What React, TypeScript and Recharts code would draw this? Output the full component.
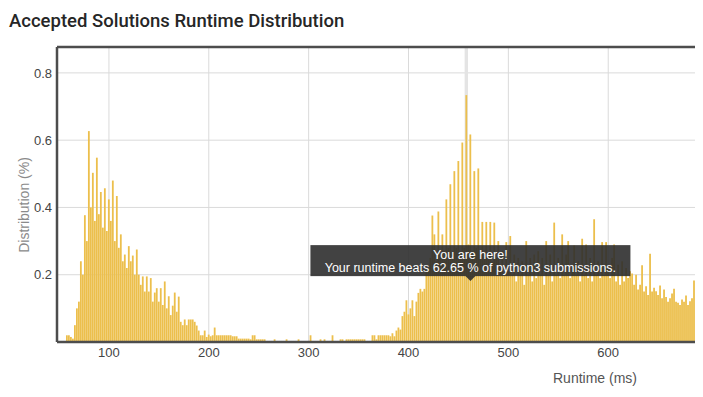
import React from 'react';
import { BarChart, Bar, XAxis, YAxis, CartesianGrid, ReferenceLine, ReferenceDot, Label } from 'recharts';

// runtime bins are 2 ms wide, values are share of accepted submissions (%)
const BIN_MS = 2;

const firstPeakStart = 50;
const firstPeak = [
  0, 0, 0, 0, 0.02, 0.02, 0.015, 0.01, 0.05, 0.1, 0.12, 0.24, 0.2, 0.377, 0.3, 0.627,
  0.4, 0.503, 0.36, 0.548, 0.38, 0.446, 0.34, 0.457, 0.33, 0.424, 0.36, 0.48, 0.3, 0.434,
  0.28, 0.32, 0.24, 0.26, 0.22, 0.285, 0.24, 0.257, 0.2, 0.275, 0.2, 0.17, 0.195, 0.15,
  0.195, 0.15, 0.19, 0.12, 0.147, 0.16, 0.12, 0.16, 0.11, 0.18, 0.1, 0.136, 0.08, 0.108,
  0.147, 0.09, 0.135, 0.06, 0.05, 0.067, 0.05, 0.067, 0.067, 0.067, 0.06, 0.049, 0.034,
  0.02, 0.02, 0.034, 0.015, 0.022, 0.017, 0.02, 0.043,
];

const gapStart = 208;
const gap = [
  0.02, 0.02, 0.02, 0.02, 0.02, 0.02, 0.02, 0.02, 0.017, 0.017, 0.017, 0.01, 0.01, 0.01,
  0.01, 0.01, 0.01, 0.008, 0.02, 0.02, 0.008, 0.008, 0.008, 0.008, 0.008, 0, 0, 0, 0,
  0.008, 0, 0, 0, 0, 0, 0.008, 0, 0, 0, 0, 0, 0.008, 0, 0, 0, 0, 0, 0.02, 0, 0, 0, 0,
  0.008, 0, 0.008, 0, 0, 0, 0.02, 0, 0, 0, 0.008, 0.008, 0, 0.008, 0.008, 0.008, 0.008,
  0.008, 0.008, 0.008, 0.008, 0.008, 0.008, 0, 0, 0, 0.02, 0.02, 0.008, 0.02, 0.02, 0.02,
  0.02, 0.02, 0.02, 0.017, 0.026, 0.017, 0.034, 0.043,
];

const secondPeakStart = 392;
const secondPeak = [
  0.037, 0.077, 0.09, 0.124, 0.082, 0.1, 0.124, 0.077, 0.12, 0.146, 0.158, 0.15, 0.158,
  0.21, 0.22, 0.25, 0.376, 0.32, 0.24, 0.388, 0.26, 0.32, 0.27, 0.424, 0.28, 0.469, 0.26,
  0.508, 0.28, 0.538, 0.27, 0.593, 0.28, 0.734, 0.29, 0.617, 0.27, 0.508, 0.28, 0.516,
  0.26, 0.357, 0.26, 0.357, 0.25, 0.357, 0.24, 0.355, 0.25, 0.3, 0.22, 0.27, 0.2, 0.297,
  0.21,
];

const tailStart = 502;
const tail = [
  0.315, 0.2, 0.26, 0.18, 0.25, 0.2, 0.24, 0.17, 0.3, 0.2, 0.25, 0.18, 0.26, 0.19, 0.27,
  0.2, 0.25, 0.17, 0.3, 0.2, 0.26, 0.18, 0.355, 0.2, 0.25, 0.19, 0.32, 0.2, 0.26, 0.3,
  0.19, 0.22, 0.287, 0.2, 0.24, 0.18, 0.307, 0.2, 0.29, 0.19, 0.25, 0.18, 0.365, 0.2,
  0.24, 0.19, 0.297, 0.2, 0.297, 0.22, 0.19, 0.25, 0.29, 0.18, 0.23, 0.17, 0.24, 0.18,
  0.22, 0.19, 0.21, 0.204, 0.17, 0.2, 0.156, 0.17, 0.228, 0.15, 0.166, 0.14, 0.262, 0.15,
  0.161, 0.151, 0.14, 0.168, 0.13, 0.156, 0.134, 0.12, 0.13, 0.144, 0.158, 0.12, 0.117,
  0.11, 0.126, 0.12, 0.138, 0.11, 0.121, 0.13, 0.183, 0.12, 0.156, 0.126, 0.12, 0.13,
  0.12, 0.12,
];

const xTicks = [100, 200, 300, 400, 500, 600, 700];
const yTicks = [0.2, 0.4, 0.6, 0.8];
const xDomain = [48, 760];
const yDomain = [0, 0.877];

const yourRuntime = 458;
const pointerRuntime = 462;
const pointerShare = 0.181;
const beatsPct = '62.65';
const language = 'python3';

const toBins = (start: number, values: number[]) =>
  values.map((share, i) => ({ runtime: start + i * BIN_MS, share }));

const data = [
  ...toBins(firstPeakStart, firstPeak),
  ...toBins(gapStart, gap),
  ...toBins(secondPeakStart, secondPeak),
  ...toBins(tailStart, tail),
];

const FONT = '"Helvetica Neue", Helvetica, "Liberation Sans", Arial, sans-serif';
const BAR_COLOR = '#ecbf4c';
const FRAME = '#4d4d4d';

// light grey column behind the bar the user landed in
function HighlightBackground(props: any) {
  if (props.payload?.runtime !== yourRuntime) return <g />;
  return <rect x={props.x - 0.8} y={props.y} width={props.width + 1.6} height={props.height} fill="#e4e4e4" />;
}

function YouAreHere(props: any) {
  const { cx, cy } = props;
  const w = 320;
  const h = 31;
  const top = cy - 5 - h;
  return (
    <g>
      <rect x={cx - w / 2} y={top} width={w} height={h} fill="#2e2e2e" fillOpacity={0.9} />
      <path d={`M${cx - 5},${cy - 5}L${cx},${cy}L${cx + 5},${cy - 5}Z`} fill="#2e2e2e" fillOpacity={0.9} />
      <text x={cx} y={top + 13.5} textAnchor="middle" fill="#fff" fontSize={12.5} fontFamily={FONT}>
        You are here!
      </text>
      <text x={cx} y={top + 26.5} textAnchor="middle" fill="#fff" fontSize={12.5} fontFamily={FONT}>
        {`Your runtime beats ${beatsPct} % of ${language} submissions.`}
      </text>
    </g>
  );
}

export default function App() {
  return (
    <div style={{ position: 'relative', width: 695, height: 381, overflow: 'hidden', fontFamily: FONT }}>
      <div
        style={{
          position: 'absolute',
          left: 1,
          top: 2.5,
          fontFamily: 'Roboto, "Liberation Sans", Arial, sans-serif',
          fontWeight: 500,
          fontSize: 18.5,
          lineHeight: '20px',
          color: '#262626',
          whiteSpace: 'nowrap',
        }}
      >
        Accepted Solutions Runtime Distribution
      </div>
      <BarChart width={760} height={381} data={data} margin={{ top: 39, right: 0, left: 0, bottom: 17 }}>
        <CartesianGrid stroke="#dadada" />
        <XAxis
          dataKey="runtime"
          type="number"
          domain={xDomain}
          ticks={xTicks}
          interval={0}
          allowDataOverflow
          height={30}
          axisLine={{ stroke: FRAME, strokeWidth: 2.5 }}
          tickLine={false}
          tickSize={0}
          tickMargin={6}
          tick={{ fill: '#444', fontSize: 13, fontFamily: FONT }}
        >
          <Label
            content={() => (
              <text x={587} y={375} textAnchor="middle" fill="#555" fontSize={14} fontFamily={FONT}>
                Runtime (ms)
              </text>
            )}
          />
        </XAxis>
        <YAxis
          type="number"
          domain={yDomain}
          ticks={yTicks}
          interval={0}
          allowDataOverflow
          width={49}
          axisLine={{ stroke: FRAME, strokeWidth: 2.5 }}
          tickLine={false}
          tickSize={0}
          tickMargin={5}
          tick={{ fill: '#444', fontSize: 13, fontFamily: FONT }}
        >
          <Label
            content={() => (
              <text
                x={16}
                y={197}
                transform="rotate(-90, 16, 197)"
                textAnchor="middle"
                dominantBaseline="central"
                fill="#8a8a8a"
                fontSize={14}
                fontFamily={FONT}
              >
                Distribution (%)
              </text>
            )}
          />
        </YAxis>
        <Bar
          dataKey="share"
          fill={BAR_COLOR}
          barSize={1.8}
          isAnimationActive={false}
          background={HighlightBackground}
        />
        <ReferenceLine y={yDomain[1]} stroke={FRAME} strokeWidth={2.5} />
        <ReferenceDot x={pointerRuntime} y={pointerShare} r={0} shape={YouAreHere} ifOverflow="visible" />
      </BarChart>
    </div>
  );
}
